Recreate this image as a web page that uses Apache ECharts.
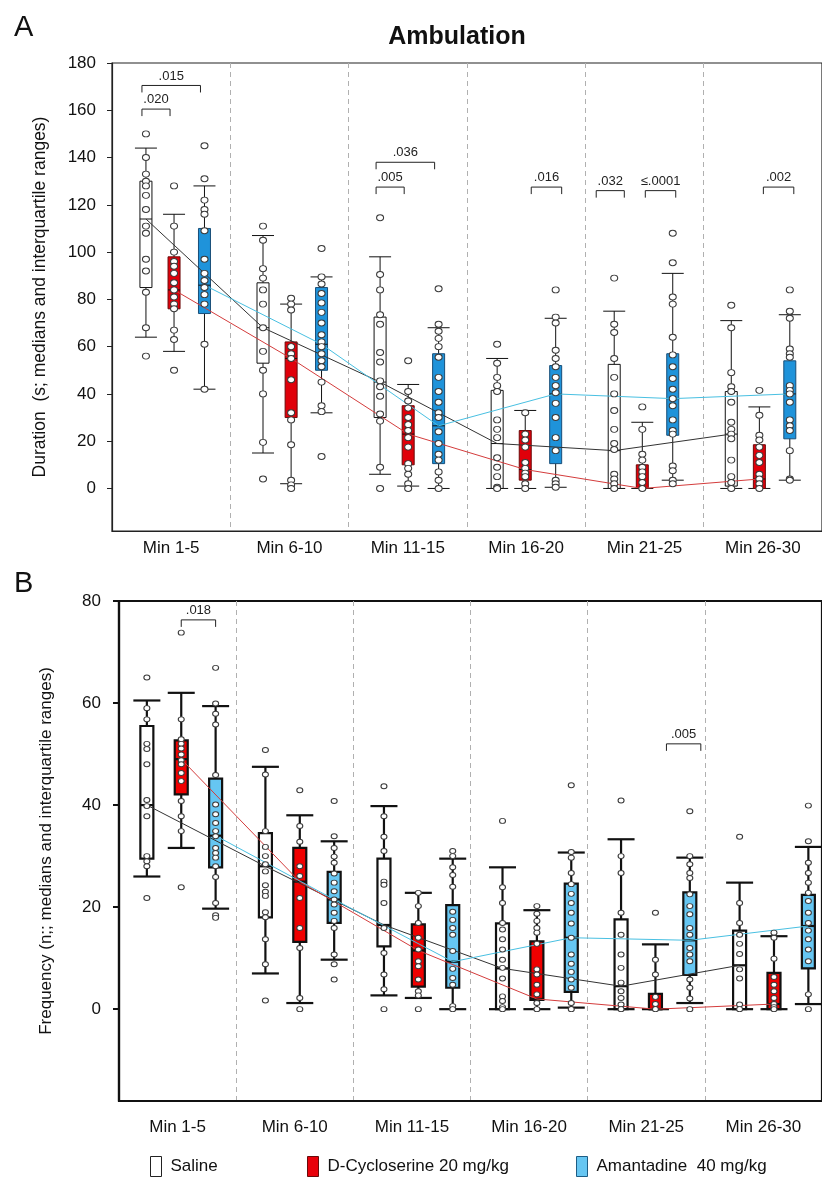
<!DOCTYPE html>
<html>
<head>
	<meta charset="utf-8"/>
	<title>Ambulation</title>
	<style>
		* { margin: 0; padding: 0; }
		html, body { width: 822px; height: 1180px; background: #fff; }
		#main { width: 822px; height: 1180px; }
	</style>
</head>
<body>
	<div id="main"></div>
	<script src="https://cdn.jsdelivr.net/npm/echarts@6/dist/echarts.min.js"></script>
	<script>
		var bins = ['Min 1-5', 'Min 6-10', 'Min 11-15', 'Min 16-20', 'Min 21-25', 'Min 26-30'];
		var groups = ['Saline', 'D-Cycloserine 20 mg/kg', 'Amantadine  40 mg/kg'];
		var yTicksA = [0, 20, 40, 60, 80, 100, 120, 140, 160, 180];
		var yTicksB = [0, 20, 40, 60, 80];

		// box stats per bin: [lower whisker, Q1, median, Q3, upper whisker]
		var durSalineBox = [[64, 85, 114, 130, 144], [15, 53, 68, 87, 107], [6, 30, 45, 72.5, 98], [0, 0, 19, 41.5, 55], [0, 0, 16, 52.5, 75], [0, 1, 23, 41, 71]];
		var durDcsBox = [[58, 76, 84, 98, 116], [2, 30, 55, 62, 78], [1, 10, 23, 35, 44], [0, 3.5, 8, 24.5, 33], [0, 0, 0, 10, 28], [0, 0, 4, 18.5, 34.5]];
		var durAmaBox = [[42, 74, 86, 110, 128], [32, 50, 61, 85, 89.5], [0, 10.5, 26.5, 57, 68], [0.5, 10.5, 40, 52, 72], [3.5, 22.5, 38, 57, 91], [3.5, 21, 40, 54, 73.5]];

		var durSalinePts = [
			[150, 140, 133, 130, 128, 124, 118, 111, 108, 97, 92, 83, 68, 56],
			[111, 105, 93, 89, 84, 78, 68, 58, 50, 40, 19.5, 4],
			[114.5, 90.5, 84, 73.5, 69.5, 57.5, 53.5, 45.5, 43, 39, 31.5, 28.5, 9, 0],
			[61, 53, 47, 43.5, 41, 29, 25, 21.5, 13, 9, 5, 0.5, 0],
			[89, 69.5, 66, 55, 47, 40, 33, 25, 19, 16.5, 6, 4, 2, 0],
			[77.5, 68, 49, 43, 41, 36.5, 28, 25, 23, 21, 12, 5, 2.5, 0]
		];
		var durDcsPts = [
			[128, 111, 100, 96, 94, 91, 87, 84, 81, 78, 76, 67, 63, 50],
			[80.5, 78, 75.5, 60, 57, 55, 46, 32, 29, 18.5, 3.5, 1.5, 0],
			[54, 41, 37, 34, 30, 27, 24.5, 21.5, 17.5, 10.5, 8.5, 6, 2, 0],
			[32, 23, 20.5, 17.5, 11, 8.5, 6.5, 5, 2, 0],
			[34.5, 25, 14.5, 12, 9, 7, 5, 2.5, 0],
			[41.5, 31, 22.5, 20.5, 17.5, 14, 11, 6, 4, 2, 0]
		];
		var durAmaPts = [
			[145, 131, 122, 118, 116, 109, 97, 91, 88, 85, 82, 78, 61, 42],
			[101.5, 89.5, 86.5, 82.5, 78.5, 74.5, 70, 65, 62, 60, 57, 54, 51.5, 45, 35, 32.5, 13.5],
			[84.5, 69.5, 66.5, 63.5, 60, 55.5, 47, 41, 36.5, 32, 30, 24, 19, 14.5, 12, 7, 3.5, 0],
			[84, 72.5, 70, 58.5, 55, 51.5, 47, 43.5, 40.5, 36, 30, 21.5, 16, 3.5, 2, 0.5],
			[108, 95.5, 81, 78, 64, 56.5, 51.5, 46.5, 42, 38, 35, 29, 24.5, 23, 9.5, 7.5, 3.5, 2],
			[84, 75, 72, 59, 57, 55.5, 43.5, 41.5, 40, 36.5, 29, 26.5, 24.5, 16, 4, 3.5]
		];

		var freqSalineBox = [[26, 29.5, 40, 55.5, 60.5], [7, 18, 28, 34.5, 47.5], [2.7, 12.3, 16.5, 29.5, 39.8], [0, 0, 8, 16.8, 27.8], [0, 0, 4.5, 17.6, 33.3], [0, 0, 8.6, 15.4, 24.8]];
		var freqDcsBox = [[31.6, 42.1, 49, 52.7, 62], [1.2, 13.2, 25, 31.6, 38], [2.2, 4.4, 11.5, 16.6, 22.8], [0, 1.8, 2, 13.3, 19.4], [0, 0, 0, 3, 12.7], [0, 0, 1, 7.1, 14.3]];
		var freqAmaBox = [[19.7, 27.8, 34, 45.2, 59.4], [9.7, 16.9, 21.5, 26.9, 32.9], [0, 4.2, 9.3, 20.4, 29.5], [0.3, 3.4, 14, 24.6, 30.7], [1.2, 6.7, 13.5, 22.9, 29.7], [1, 8, 16.3, 22.4, 31.8]];

		var freqSalinePts = [
			[65, 59, 56.8, 52, 51, 48, 41, 39.8, 37.8, 30, 29, 28, 21.8],
			[50.8, 46, 34.9, 31.8, 30, 28.4, 27, 24.3, 23, 22.2, 19, 18, 13.7, 8.8, 1.7],
			[43.7, 37.8, 33.8, 31, 25, 24.4, 20.8, 15.9, 11, 6.8, 3.9, 0],
			[36.9, 23.9, 20.8, 16.9, 15.6, 13.7, 11.7, 9.7, 8.1, 6, 2.5, 1.6, 0.4, 0],
			[40.9, 30, 26.7, 18.9, 14.6, 10.7, 8.1, 5.2, 3.5, 2.2, 0.9, 0],
			[33.8, 20.8, 16.9, 14.6, 12.8, 10.8, 7.8, 6, 0.9, 0]
		];
		var freqDcsPts = [
			[73.8, 56.8, 52.9, 52, 51.1, 49.9, 48.8, 48, 46.3, 44.7, 40.8, 37.8, 34.9, 23.9],
			[42.9, 35.9, 32.8, 28, 26.1, 21.8, 15.9, 12, 2.2, 0],
			[22.8, 20.2, 16.9, 14, 11.7, 9.4, 8.4, 5.8, 3.5, 2.7, 0],
			[20.2, 18.7, 17.3, 15.9, 15, 12.8, 7.8, 6.8, 4.8, 2.9, 1.2, 0],
			[18.9, 9.7, 6.8, 2.4, 1, 0],
			[15, 14, 9.9, 6.3, 4.8, 3.5, 2.2, 1, 0.4, 0]
		];
		var freqAmaPts = [
			[66.9, 59.9, 57.9, 55.8, 45.9, 40.1, 38.2, 36.5, 34.9, 33.9, 31.6, 30.6, 29.7, 28, 25.9, 20.8, 18.4, 17.9],
			[40.8, 33.9, 31.6, 29.9, 28.7, 26.6, 24.8, 23.1, 21.5, 20.5, 18.9, 17.3, 15.9, 10.7, 8.8, 5.8],
			[31, 30, 27.8, 26.3, 24, 19.1, 17.5, 15.9, 14.6, 11.4, 7.9, 6.1, 4.8, 0.6, 0],
			[43.9, 30.8, 29.7, 26.7, 24.5, 22.6, 20.8, 18.9, 16.8, 14, 10.7, 8.9, 7.3, 5.8, 4.2, 1.2, 0],
			[38.8, 30, 28.4, 26.7, 25.7, 22.5, 20.2, 18.6, 15.9, 14.6, 12, 10.7, 9.4, 5.8, 4.2, 2.1, 0],
			[39.9, 32.9, 28.7, 26.7, 24.8, 22.8, 21.2, 18.9, 16.9, 15.4, 13.7, 11.7, 9.4, 2.9, 0]
		];

		// significance brackets: [bin, from group, to group, height, p]
		var bracketsA = [[0, 0, 2, 170.5, '.015'], [0, 0, 1, 160.5, '.020'], [2, 0, 2, 138, '.036'], [2, 0, 1, 127.5, '.005'],
			[3, 1, 2, 127.5, '.016'], [4, 0, 1, 126, '.032'], [4, 1, 2, 126, '≤.0001'], [5, 1, 2, 127.5, '.002']];
		var bracketsB = [[0, 1, 2, 76.3, '.018'], [4, 1, 2, 52, '.005']];
		// horizontal nudge of each bracket in px (hand placement in the original)
		var nudgeA = [-4, -4, -4, -4, 6, -18, 3, 4];
		var nudgeB = [0, 11];

		var FONT = '"Liberation Sans", Arial, sans-serif';
		var offA = [-0.24, 0, 0.26];
		var offB = [-0.29, 0, 0.29];

		var panels = [
			{ box: [durSalineBox, durDcsBox, durAmaBox], pts: [durSalinePts, durDcsPts, durAmaPts], br: bracketsA, nudge: nudgeA, off: offA,
				fill: ['#ffffff', '#e0000a', '#1f93da'], stroke: ['#111', '#6a0a0a', '#184e78'], lw: 1, bw: 12, cap: 22, sym: [7, 6] },
			{ box: [freqSalineBox, freqDcsBox, freqAmaBox], pts: [freqSalinePts, freqDcsPts, freqAmaPts], br: bracketsB, nudge: nudgeB, off: offB,
				fill: ['#ffffff', '#f00000', '#66c6f2'], stroke: ['#111', '#111', '#111'], lw: 2.2, bw: 13, cap: 27, sym: [6, 5] }
		];
		var lineColors = ['#333333', '#d43c3c', '#48c0e2'];

		function boxRender(p, g) {
			return function (params, api) {
				var x = api.value(0);
				var lo = api.coord([x, api.value(1)]);
				var q1 = api.coord([x, api.value(2)]);
				var md = api.coord([x, api.value(3)]);
				var q3 = api.coord([x, api.value(4)]);
				var hi = api.coord([x, api.value(5)]);
				var cx = lo[0], w = p.bw, c = p.cap;
				var ls = { stroke: '#111', lineWidth: p.lw };
				return {
					type: 'group',
					children: [
						{ type: 'line', shape: { x1: cx, y1: hi[1], x2: cx, y2: lo[1] }, style: ls },
						{ type: 'line', shape: { x1: cx - c / 2, y1: hi[1], x2: cx + c / 2, y2: hi[1] }, style: ls },
						{ type: 'line', shape: { x1: cx - c / 2, y1: lo[1], x2: cx + c / 2, y2: lo[1] }, style: ls },
						{ type: 'rect', shape: { x: cx - w / 2, y: q3[1], width: w, height: q1[1] - q3[1] },
							style: { fill: p.fill[g], stroke: p.stroke[g], lineWidth: p.lw } },
						{ type: 'line', shape: { x1: cx - w / 2, y1: md[1], x2: cx + w / 2, y2: md[1] }, style: ls }
					]
				};
			};
		}

		function bracketRender(p) {
			return function (params, api) {
				var a = api.coord([api.value(0), api.value(2)]);
				var b = api.coord([api.value(1), api.value(2)]);
				var t = p.br[params.dataIndex][4];
				var d = p.nudge[params.dataIndex];
				var x1 = a[0] + d, x2 = b[0] + d;
				return {
					type: 'group',
					children: [
						{ type: 'polyline', shape: { points: [[x1, a[1] + 7], [x1, a[1]], [x2, b[1]], [x2, b[1] + 7]] },
							style: { fill: null, stroke: '#222', lineWidth: 1 } },
						{ type: 'text', x: (x1 + x2) / 2, y: a[1] - 3,
							style: { text: t, fill: '#222', font: '13px ' + FONT, textAlign: 'center', textVerticalAlign: 'bottom' } }
					]
				};
			};
		}

		var series = [];
		panels.forEach(function (p, k) {
			for (var g = 0; g < 3; g++) {
				series.push({
					type: 'custom', name: groups[g], xAxisIndex: k * 2, yAxisIndex: k, z: 2,
					renderItem: boxRender(p, g),
					encode: { x: 0, y: [1, 2, 3, 4, 5] },
					data: p.box[g].map(function (b, i) { return [i + p.off[g]].concat(b); })
				});
			}
			for (var g2 = 0; g2 < 3; g2++) {
				series.push({
					type: 'line', xAxisIndex: k * 2, yAxisIndex: k, z: 3, symbol: 'none', silent: true,
					lineStyle: { color: lineColors[g2], width: 1 },
					data: p.box[g2].map(function (b, i) { return [i + p.off[g2], b[2]]; })
				});
			}
			var pts = [];
			for (var g3 = 0; g3 < 3; g3++) {
				p.pts[g3].forEach(function (vals, i) {
					vals.forEach(function (v) { pts.push([i + p.off[g3], v]); });
				});
			}
			series.push({
				type: 'scatter', xAxisIndex: k * 2, yAxisIndex: k, z: 4, symbol: 'circle', symbolSize: p.sym,
				itemStyle: { color: '#fff', borderColor: '#3a3a3a', borderWidth: 1, opacity: 1 },
				data: pts
			});
			series.push({
				type: 'custom', xAxisIndex: k * 2, yAxisIndex: k, z: 5,
				renderItem: bracketRender(p),
				encode: { x: [0, 1], y: 2 },
				data: p.br.map(function (b) { return [b[0] + p.off[b[1]], b[0] + p.off[b[2]], b[3]]; })
			});
		});

		function legendItem(left, i, fill, stroke) {
			return {
				left: left, top: 1156, padding: 0, itemWidth: 11, itemHeight: 20, selectedMode: false,
				textStyle: { fontSize: 17, fontFamily: FONT, color: '#111', padding: [0, 0, 0, 4] },
				data: [{ name: groups[i], icon: 'rect', itemStyle: { color: fill, borderColor: stroke, borderWidth: 1 } }]
			};
		}

		var myChart = echarts.init(document.getElementById('main'), null, { renderer: 'canvas' });
		var option = {
			animation: false,
			backgroundColor: '#fff',
			textStyle: { fontFamily: FONT },
			title: [
				{ text: 'Ambulation', left: 452, top: 20, textAlign: 'center',
					textStyle: { fontSize: 25, fontWeight: 'bold', color: '#111', fontFamily: FONT } },
				{ text: 'A', left: 9, top: 8, textStyle: { fontSize: 29, fontWeight: 'normal', color: '#111', fontFamily: FONT } },
				{ text: 'B', left: 9, top: 564, textStyle: { fontSize: 29, fontWeight: 'normal', color: '#111', fontFamily: FONT } }
			],
			legend: [
				legendItem(150, 0, '#ffffff', '#222'),
				legendItem(307, 1, '#e8000a', '#6a0a0a'),
				legendItem(576, 2, '#66c6f2', '#1d5d85')
			],
			grid: [
				{ left: 112, top: 63, width: 712, height: 468, show: true, borderColor: '#222', borderWidth: 1.2, backgroundColor: 'transparent' },
				{ left: 119, top: 601, width: 705, height: 500, show: true, borderColor: '#111', borderWidth: 2.2, backgroundColor: 'transparent' }
			],
			xAxis: [
				{ type: 'value', gridIndex: 0, position: 'bottom', min: -0.53, max: 5.535, show: false },
				{ type: 'category', gridIndex: 0, position: 'bottom', data: bins, boundaryGap: true,
					axisLine: { onZero: false, lineStyle: { color: '#222', width: 1.2 } }, axisTick: { show: false },
					axisLabel: { fontSize: 17, color: '#111', margin: 9, fontFamily: FONT },
					splitLine: { show: true, lineStyle: { color: '#b0b0b0', type: [5, 4], width: 1 } } },
				{ type: 'value', gridIndex: 1, position: 'bottom', min: -0.525, max: 5.405, show: false },
				{ type: 'category', gridIndex: 1, position: 'bottom', data: bins, boundaryGap: true,
					axisLine: { onZero: false, lineStyle: { color: '#111', width: 2.2 } }, axisTick: { show: false },
					axisLabel: { fontSize: 17, color: '#111', margin: 18, fontFamily: FONT },
					splitLine: { show: true, lineStyle: { color: '#b0b0b0', type: [5, 4], width: 1 } } }
			],
			yAxis: [
				{ type: 'value', gridIndex: 0, position: 'left', min: -18, max: 180,
					name: 'Duration  (s; medians and interquartile ranges)', nameLocation: 'middle', nameGap: 63,
					nameTextStyle: { fontSize: 17.5, color: '#111', fontFamily: FONT },
					axisLine: { show: true, onZero: false, lineStyle: { color: '#222', width: 1.2 } },
					axisTick: { show: true, length: 5, customValues: yTicksA, lineStyle: { color: '#222' } },
					axisLabel: { fontSize: 17, color: '#111', margin: 16, customValues: yTicksA, fontFamily: FONT },
					splitLine: { show: false } },
				{ type: 'value', gridIndex: 1, position: 'left', min: -18, max: 80,
					name: 'Frequency (n;; medians and interquartile ranges)', nameLocation: 'middle', nameGap: 64,
					nameTextStyle: { fontSize: 17, color: '#111', fontFamily: FONT },
					axisLine: { show: true, onZero: false, lineStyle: { color: '#111', width: 2.2 } },
					axisTick: { show: true, length: 6, customValues: yTicksB, lineStyle: { color: '#111', width: 2 } },
					axisLabel: { fontSize: 17, color: '#111', margin: 18, customValues: yTicksB, fontFamily: FONT },
					splitLine: { show: false } }
			],
			series: series
		};
		myChart.setOption(option);
	</script>
</body>
</html>
